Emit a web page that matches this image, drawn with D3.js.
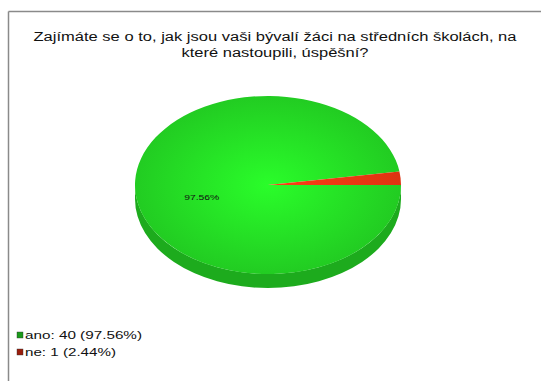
<!DOCTYPE html>
<html>
<head>
<meta charset="utf-8">
<script src="https://cdn.jsdelivr.net/npm/d3@7"></script>
<style>
  html, body { margin: 0; padding: 0; background: #fff; }
  svg { display: block; }
  text { font-family: "Liberation Sans", Arial, sans-serif; fill: #111; }
</style>
</head>
<body>
<script>
// Survey answers
const categories = ["ano", "ne"];
const counts = [40, 1];
const percents = ["97.56%", "2.44%"];
const titleLines = [
  "Zajímáte se o to, jak jsou vaši bývalí žáci na středních školách, na",
  "které nastoupili, úspěšní?"
];

const W = 541, H = 381;
const svg = d3.select("body").append("svg").attr("width", W).attr("height", H);

// frame (top and left edges only)
svg.append("line").attr("x1", 8.5).attr("y1", 11.5).attr("x2", W).attr("y2", 11.5)
  .attr("stroke", "#8a8a8a").attr("stroke-width", 1.5);
svg.append("line").attr("x1", 8.5).attr("y1", 11.5).attr("x2", 8.5).attr("y2", H)
  .attr("stroke", "#8a8a8a").attr("stroke-width", 1.5);

// title
const titleWidths = [483, 187];
svg.selectAll("text.title").data(titleLines).join("text")
  .attr("class", "title")
  .attr("x", 275).attr("y", (d, i) => 41 + i * 16)
  .attr("text-anchor", "middle")
  .attr("font-size", 12.5)
  .attr("textLength", (d, i) => titleWidths[i])
  .attr("lengthAdjust", "spacingAndGlyphs")
  .text(d => d);

// 3D pie geometry
const cx = 268, cy = 185, rx = 133, ry = 89, depth = 14;
const topColors = ["#22cc22", "#dd3311"];
const sideColors = ["#1dab1d", "#b42a0e"];
const legendColors = ["#1a9a1a", "#9a1d0c"];

// radial shading of the top face (in the slice's own, centred coordinates)
const defs = svg.append("defs");
const grads = topColors.map((c, i) => {
  const g = defs.append("radialGradient").attr("id", "top" + i)
    .attr("gradientUnits", "userSpaceOnUse")
    .attr("cx", 0).attr("cy", 0).attr("r", rx);
  g.append("stop").attr("offset", "0%").attr("stop-color", d3.color(c).brighter(0.6));
  g.append("stop").attr("offset", "100%").attr("stop-color", c);
  return "url(#top" + i + ")";
});

const data = categories.map((c, i) => ({ name: c, value: counts[i], pct: percents[i], i }));
const pie = d3.pie().sort(null).value(d => d.value)
  .startAngle(Math.PI / 2).endAngle(Math.PI / 2 + 2 * Math.PI);
const arcs = pie(data);

const px = a => cx + rx * Math.sin(a);
const py = (a, dy = 0) => cy - ry * Math.cos(a) + dy;

// side walls: only the front half (angles between PI/2 and 3PI/2, modulo 2PI)
const side = svg.append("g");
arcs.forEach(s => {
  const segs = [];
  for (let k = -1; k <= 1; k++) {
    const lo = Math.PI / 2 + k * 2 * Math.PI, hi = 3 * Math.PI / 2 + k * 2 * Math.PI;
    const a0 = Math.max(s.startAngle, lo), a1 = Math.min(s.endAngle, hi);
    if (a1 > a0) segs.push([a0, a1]);
  }
  segs.forEach(([a0, a1]) => {
    const large = (a1 - a0) > Math.PI ? 1 : 0;
    const p = `M${px(a0)},${py(a0)}` +
      `A${rx},${ry} 0 ${large} 1 ${px(a1)},${py(a1)}` +
      `L${px(a1)},${py(a1, depth)}` +
      `A${rx},${ry} 0 ${large} 0 ${px(a0)},${py(a0, depth)}Z`;
    side.append("path").attr("d", p).attr("fill", sideColors[s.data.i]);
  });
});

// top faces, drawn with d3.arc on a circle then squashed vertically
const arcGen = d3.arc().innerRadius(0).outerRadius(rx);
svg.append("g")
  .attr("transform", `translate(${cx},${cy}) scale(1,${ry / rx})`)
  .selectAll("path").data(arcs).join("path")
  .attr("d", arcGen)
  .attr("fill", d => grads[d.data.i]);

// slice label for the large slice
const big = arcs[0];
const mid = (big.startAngle + big.endAngle) / 2;
svg.append("text")
  .attr("x", cx + 0.5 * rx * Math.sin(mid))
  .attr("y", cy - 0.5 * ry * Math.cos(mid) + 12)
  .attr("text-anchor", "middle")
  .attr("font-size", 8)
  .attr("textLength", 35).attr("lengthAdjust", "spacingAndGlyphs")
  .text(big.data.pct);

// legend
const legendWidths = [117, 91];
const lg = svg.append("g");
data.forEach((d, i) => {
  const y = 332 + i * 17;
  lg.append("rect").attr("x", 17).attr("y", y).attr("width", 6).attr("height", 6)
    .attr("fill", legendColors[i]).attr("stroke", "#333").attr("stroke-width", 0.4);
  lg.append("text").attr("x", 25).attr("y", y + 7)
    .attr("font-size", 11)
    .attr("textLength", legendWidths[i]).attr("lengthAdjust", "spacingAndGlyphs")
    .text(`${d.name}: ${d.value} (${d.pct})`);
});
</script>
</body>
</html>
